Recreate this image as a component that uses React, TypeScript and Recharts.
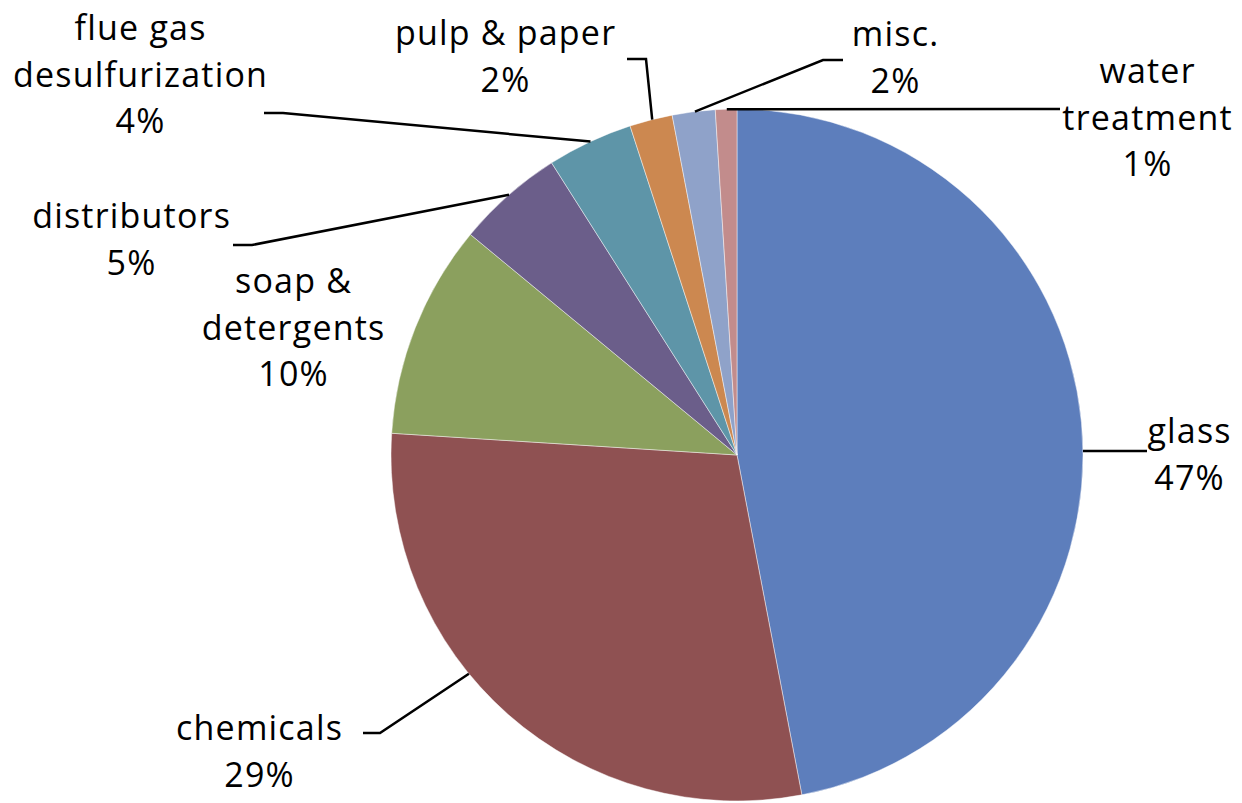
import React from 'react';
import { PieChart, Pie, Cell } from 'recharts';

// End uses of the product, share of total consumption (%)
const categories = [
  'glass',
  'chemicals',
  'soap & detergents',
  'distributors',
  'flue gas desulfurization',
  'pulp & paper',
  'misc.',
  'water treatment',
];
const shares = [47, 29, 10, 5, 4, 2, 2, 1];
const sliceColors = ['#5D7EBC', '#8F5152', '#8BA05E', '#6B5E8A', '#5E95A8', '#CC8850', '#8FA2C9', '#C28C8C'];
// How each category name is broken over lines in its label
const nameLines = [
  ['glass'],
  ['chemicals'],
  ['soap &', 'detergents'],
  ['distributors'],
  ['flue gas', 'desulfurization'],
  ['pulp & paper'],
  ['misc.'],
  ['water', 'treatment'],
];

const data = categories.map((name, i) => ({ name, value: shares[i] }));

// Label placement relative to the pie centre: text centre x, first baseline y,
// where along the slice's arc the leader line starts (0..1), and the leader's bend points.
type LabelLayout = { tx: number; ty: number; along: number; leader: [number, number][] };
const labelLayout: LabelLayout[] = [
  { tx: 452, ty: -12, along: 0.528, leader: [[410, -4]] },
  { tx: -478, ty: 285, along: 0.59, leader: [[-357, 278], [-374, 278]] },
  { tx: -444, ty: -162, along: 0.5, leader: [] },
  { tx: -606, ty: -227, along: 0.51, leader: [[-485, -210], [-504, -210]] },
  { tx: -597, ty: -415, along: 0.51, leader: [[-454, -342], [-473, -342]] },
  { tx: -232, ty: -410, along: 0.53, leader: [[-91, -396], [-110, -396]] },
  { tx: 158, ty: -409, along: 0.53, leader: [[86, -395], [106, -395]] },
  { tx: 410, ty: -372, along: 0.53, leader: [[323, -346]] },
];

const LINE_GAP = 46.5;
const FONT = '"Open Sans", sans-serif';
const LETTER_SPACING = 1.2;

const renderLabel = (props: any) => {
  const { cx, cy, outerRadius, startAngle, endAngle, index } = props;
  const layout = labelLayout[index];
  const a = ((startAngle + layout.along * (endAngle - startAngle)) * Math.PI) / 180;
  const ax = cx + outerRadius * Math.cos(a);
  const ay = cy - outerRadius * Math.sin(a);
  const lines = [...nameLines[index], `${shares[index]}%`];
  const pts: [number, number][] = [[ax, ay], ...layout.leader.map(([dx, dy]) => [cx + dx, cy + dy] as [number, number])];
  // letter spacing trails the last glyph, so nudge the centre to keep it balanced
  const x = cx + layout.tx + LETTER_SPACING / 2;
  return (
    <g key={`label-${index}`}>
      {layout.leader.length > 0 && (
        <polyline
          points={pts.map((p) => p.join(',')).join(' ')}
          fill="none"
          stroke="#000"
          strokeWidth={2.5}
        />
      )}
      <text
        x={x}
        y={cy + layout.ty}
        textAnchor="middle"
        fontFamily={FONT}
        fontSize={34}
        letterSpacing={LETTER_SPACING}
        fill="#000"
      >
        {lines.map((line, i) => (
          <tspan key={i} x={x} y={cy + layout.ty + i * LINE_GAP}>
            {line}
          </tspan>
        ))}
      </text>
    </g>
  );
};

export default function App() {
  return (
    <div style={{ position: 'absolute', left: 0, top: 0, width: 1242, height: 803, background: '#fff' }}>
      <PieChart width={1242} height={803} margin={{ top: 0, right: 0, bottom: 0, left: 0 }}>
        <Pie
          data={data}
          dataKey="value"
          nameKey="name"
          cx={737}
          cy={455}
          outerRadius={346}
          startAngle={90}
          endAngle={-270}
          stroke="rgba(255,255,255,0.45)"
          strokeWidth={1}
          label={renderLabel}
          labelLine={false}
          isAnimationActive={false}
        >
          {data.map((d, i) => (
            <Cell key={d.name} fill={sliceColors[i]} />
          ))}
        </Pie>
      </PieChart>
    </div>
  );
}
